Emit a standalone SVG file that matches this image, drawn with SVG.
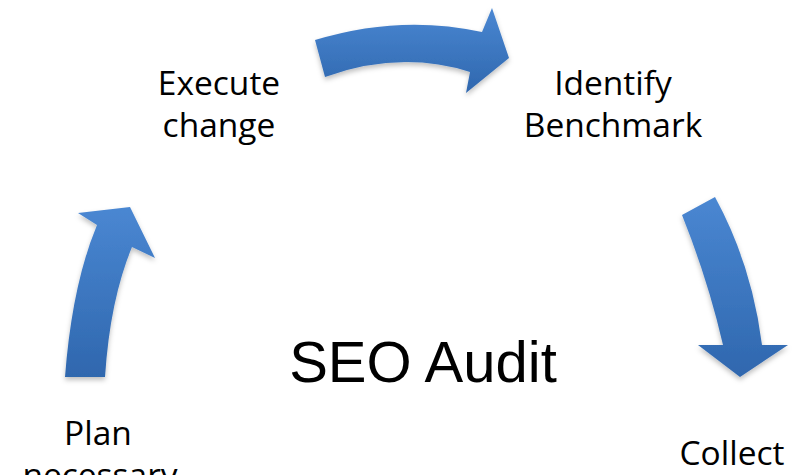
<svg xmlns="http://www.w3.org/2000/svg" width="811" height="475" viewBox="0 0 811 475">
  <style>
    .lbl { font-family: "Open Sans", "Noto Sans", sans-serif; font-size: 33.5px; fill: #000; text-anchor: middle; }
    .title { font-family: "Liberation Sans", Arial, sans-serif; font-size: 58px; fill: #000; text-anchor: middle; }
    .arrow { fill: url(#blue); filter: url(#shadow); }
  </style>
  <defs>
    <linearGradient id="blue" x1="0" y1="0" x2="0" y2="1">
      <stop offset="0" stop-color="#4a87d2"/>
      <stop offset="1" stop-color="#2f67ae"/>
    </linearGradient>
    <filter id="shadow" x="-20%" y="-20%" width="140%" height="140%">
      <feDropShadow dx="0" dy="3" stdDeviation="2.5" flood-color="#000" flood-opacity="0.25"/>
    </filter>
  </defs>
  <rect width="811" height="475" fill="#fff"/>
  <g id="connectors">
    <path class="arrow" d="M315,40 Q400,14 482,32 L492,8 L509,58 L466,93 L470,72 Q400,50 325,77 Z"/>
    <path class="arrow" d="M682,215 L715,197 Q752,265 762,345 L788,345 L740,377 L698,345 L723,345 Q708,280 682,215 Z"/>
    <path class="arrow" d="M65,377 Q72,285 97,225 L78,213 L130,207 L155,258 L132,247 Q110,300 105,377 Z"/>
  </g>
  <g id="execute-change">
    <text class="lbl" x="219" y="95">Execute</text>
    <text class="lbl" x="219" y="137">change</text>
  </g>
  <g id="identify-benchmark">
    <text class="lbl" x="613" y="95">Identify</text>
    <text class="lbl" x="613" y="137">Benchmark</text>
  </g>
  <g id="collect">
    <text class="lbl" x="732" y="465">Collect</text>
  </g>
  <g id="plan-necessary">
    <text class="lbl" x="98" y="445">Plan</text>
    <text class="lbl" x="100" y="487">necessary</text>
  </g>
  <g id="seo-audit">
    <text class="title" x="423" y="382">SEO Audit</text>
  </g>
</svg>
